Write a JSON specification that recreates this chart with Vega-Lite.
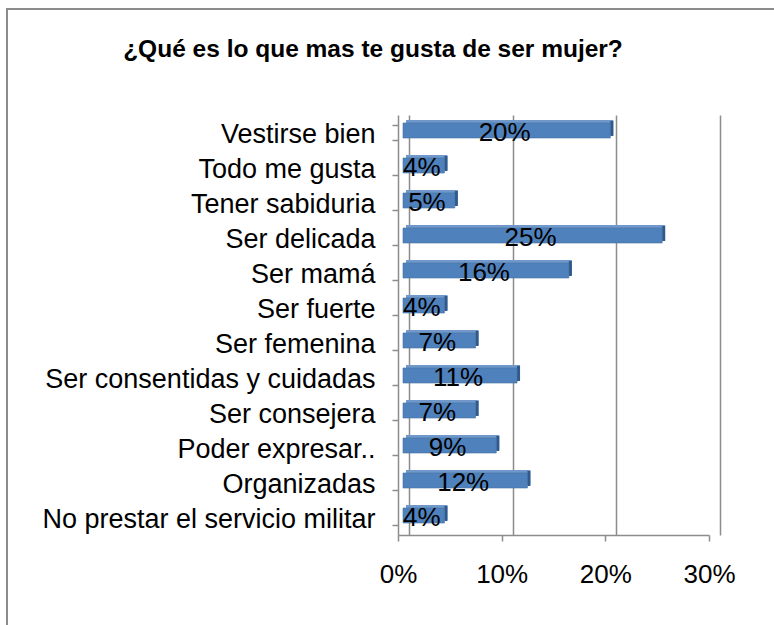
{
  "$schema": "https://vega.github.io/schema/vega-lite/v6.json",
  "autosize": {"type": "none"},
  "width": 770,
  "height": 620,
  "padding": {"left": 7, "top": 9, "right": -3, "bottom": -4},
  "background": "white",
  "config": {
    "view": {"stroke": "#8C8C8C", "strokeWidth": 2},
    "font": "Liberation Sans"
  },
  "title": {
    "text": "¿Qué es lo que mas te gusta de ser mujer?",
    "font": "Liberation Sans",
    "fontSize": 24.5,
    "fontWeight": "bold",
    "color": "black",
    "anchor": "middle",
    "frame": "group",
    "baseline": "alphabetic",
    "offset": -86,
    "dx": -19
  },
  "data": {
    "values": [
      {"cat": "Vestirse bien", "pct": 0.20},
      {"cat": "Todo me gusta", "pct": 0.04},
      {"cat": "Tener sabiduria", "pct": 0.05},
      {"cat": "Ser delicada", "pct": 0.25},
      {"cat": "Ser mamá", "pct": 0.16},
      {"cat": "Ser fuerte", "pct": 0.04},
      {"cat": "Ser femenina", "pct": 0.07},
      {"cat": "Ser consentidas y cuidadas", "pct": 0.11},
      {"cat": "Ser  consejera", "pct": 0.07},
      {"cat": "Poder expresar..", "pct": 0.09},
      {"cat": "Organizadas", "pct": 0.12},
      {"cat": "No prestar el servicio militar", "pct": 0.04}
    ]
  },
  "transform": [{"calculate": "datum.pct / 2", "as": "mid"}],
  "encoding": {
    "y": {
      "field": "cat",
      "type": "nominal",
      "sort": null,
      "scale": {"range": [106, 526], "paddingInner": 0.57, "paddingOuter": 0.285},
      "axis": {
        "orient": "left",
        "offset": -391,
        "title": null,
        "grid": false,
        "tickBand": "extent",
        "domainColor": "#8C8C8C",
        "domainWidth": 1.5,
        "tickColor": "#8C8C8C",
        "tickWidth": 1.5,
        "tickSize": 6,
        "labelFont": "Liberation Sans",
        "labelFontSize": 27,
        "labelColor": "black",
        "labelPadding": 17,
        "labelLimit": 400,
        "labelOffset": 2
      }
    }
  },
  "layer": [
    {
      "mark": {"type": "bar", "color": "#7198CA", "xOffset": 8, "x2Offset": 8, "yOffset": -5},
      "encoding": {
        "x": {
          "field": "pct",
          "type": "quantitative",
          "scale": {"domain": [0, 0.3], "range": [391, 702], "nice": false, "zero": true},
          "axis": {
            "orient": "bottom",
            "offset": -94,
            "title": null,
            "grid": false,
            "values": [0, 0.1, 0.2, 0.3],
            "format": ".0%",
            "domainColor": "#8C8C8C",
            "domainWidth": 1.5,
            "tickColor": "#8C8C8C",
            "tickWidth": 1.5,
            "tickSize": 6,
            "labelFont": "Liberation Sans",
            "labelFontSize": 26,
            "labelColor": "black",
            "labelPadding": 20,
            "labelFlush": false
          }
        }
      }
    },
    {
      "mark": {"type": "bar", "color": "#30598C", "xOffset": 5, "x2Offset": 8, "yOffset": -4},
      "encoding": {
        "x": {"field": "pct", "type": "quantitative", "axis": null},
        "x2": {"field": "pct"}
      }
    },
    {
      "mark": {"type": "bar", "color": "#4F81BD", "stroke": "#44729F", "strokeWidth": 0.6, "xOffset": 5, "x2Offset": 5, "yOffset": -2},
      "encoding": {
        "x": {
          "field": "pct",
          "type": "quantitative",
          "axis": {
            "orient": "top",
            "title": null,
            "grid": true,
            "gridColor": "#8C8C8C",
            "gridWidth": 1.5,
            "tickOffset": 11,
            "values": [0, 0.1, 0.2, 0.3],
            "domain": false,
            "ticks": false,
            "labels": false
          }
        }
      }
    },
    {
      "mark": {"type": "text", "font": "Liberation Sans", "fontSize": 26, "color": "black", "baseline": "middle", "align": "center", "dx": 3},
      "encoding": {
        "x": {"field": "mid", "type": "quantitative", "axis": null},
        "text": {"field": "pct", "type": "quantitative", "format": ".0%"}
      }
    }
  ],
  "resolve": {"axis": {"x": "independent"}}
}
